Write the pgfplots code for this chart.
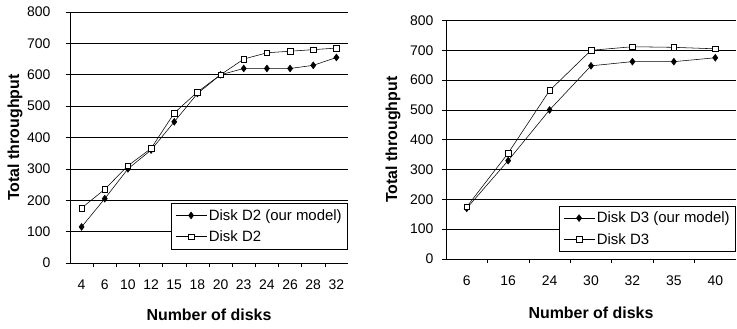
\documentclass[border=0pt]{standalone}
\usepackage{pgfplots}
\pgfplotsset{compat=1.18}
\usepackage{fontspec}
\setmainfont{Liberation Sans}
\begin{document}
\begin{tikzpicture}
\path[use as bounding box] (0,0) rectangle (737bp,329bp);
\pgfplotsset{
  common/.style={
    scale only axis,
    axis x line*=bottom, axis y line*=left,
    ymin=0, ymax=800, ytick={0,100,...,800},
    ymajorgrids, grid style={black, line width=0.6pt},
    axis line style={black, line width=0.6pt},
    tick align=outside,
    major tick length=4bp,
    minor tick length=4bp,
    x tick style={draw=none},
    minor x tick style={draw=black, line width=0.6pt},
    y tick style={black, line width=0.6pt},
    tick label style={font=\fontsize{14}{16}\selectfont},
    label style={font=\fontsize{16}{18}\selectfont\bfseries},
    /pgf/number format/assume math mode=true,
    legend style={draw=black, fill=white, line width=0.6pt, font=\fontsize{15}{17}\selectfont, cells={anchor=west}, inner xsep=4bp, inner ysep=4bp, row sep=5bp},
    legend cell align=left,
    legend image code/.code={
      \draw[#1, mark=none] (0bp,0bp) -- (31bp,0bp);
      \draw[#1, only marks] plot coordinates {(15.5bp,0bp)};
    },
    xlabel={Number of disks}, ylabel={Total throughput},
  },
  mdl/.style={black, line width=0.55pt, mark=diamond*, mark size=3.4bp, mark options={fill=black, solid}},
  obs/.style={black, line width=0.55pt, mark=square*, mark size=2.8bp, mark options={fill=white, solid}},
}
\begin{axis}[common,
  at={(70bp,66bp)}, anchor=south west,
  width=278bp, height=251bp,
  xmin=-0.5, xmax=11.5,
  xtick={0,...,11},
  xticklabels={4,6,10,12,15,18,20,23,24,26,28,32},
  minor xtick={0.5,1.5,...,10.5},
  xticklabel style={yshift=-9bp},
  yticklabel style={xshift=-12bp},
  xlabel style={at={(axis description cs:0.5,-0.207)}, anchor=center},
  ylabel style={at={(axis description cs:-0.198,0.5)}, anchor=center},
  legend style={at={(1,0.055)}, anchor=south east},
]
\addplot[mdl] coordinates {(0,115)(1,205)(2,300)(3,360)(4,450)(5,540)(6,600)(7,620)(8,620)(9,620)(10,630)(11,655)};
\addlegendentry{Disk D2 (our model)}
\addplot[obs] coordinates {(0,175)(1,235)(2,310)(3,365)(4,478)(5,545)(6,600)(7,650)(8,670)(9,675)(10,680)(11,685)};
\addlegendentry{Disk D2}
\end{axis}
\begin{axis}[common,
  at={(446bp,70bp)}, anchor=south west,
  width=290bp, height=238.5bp,
  xmin=-0.5, xmax=6.5,
  xtick={0,...,6},
  xticklabels={6,16,24,30,32,35,40},
  minor xtick={0.5,1.5,...,5.5},
  xticklabel style={yshift=-9bp},
  yticklabel style={xshift=-5bp},
  xlabel style={at={(axis description cs:0.5,-0.226)}, anchor=center},
  ylabel style={at={(axis description cs:-0.183,0.5)}, anchor=center},
  legend style={at={(1,0.03)}, anchor=south east},
]
\addplot[mdl] coordinates {(0,170)(1,330)(2,500)(3,648)(4,662)(5,662)(6,675)};
\addlegendentry{Disk D3 (our model)}
\addplot[obs] coordinates {(0,175)(1,355)(2,565)(3,700)(4,712)(5,710)(6,705)};
\addlegendentry{Disk D3}
\end{axis}
\end{tikzpicture}
\end{document}
